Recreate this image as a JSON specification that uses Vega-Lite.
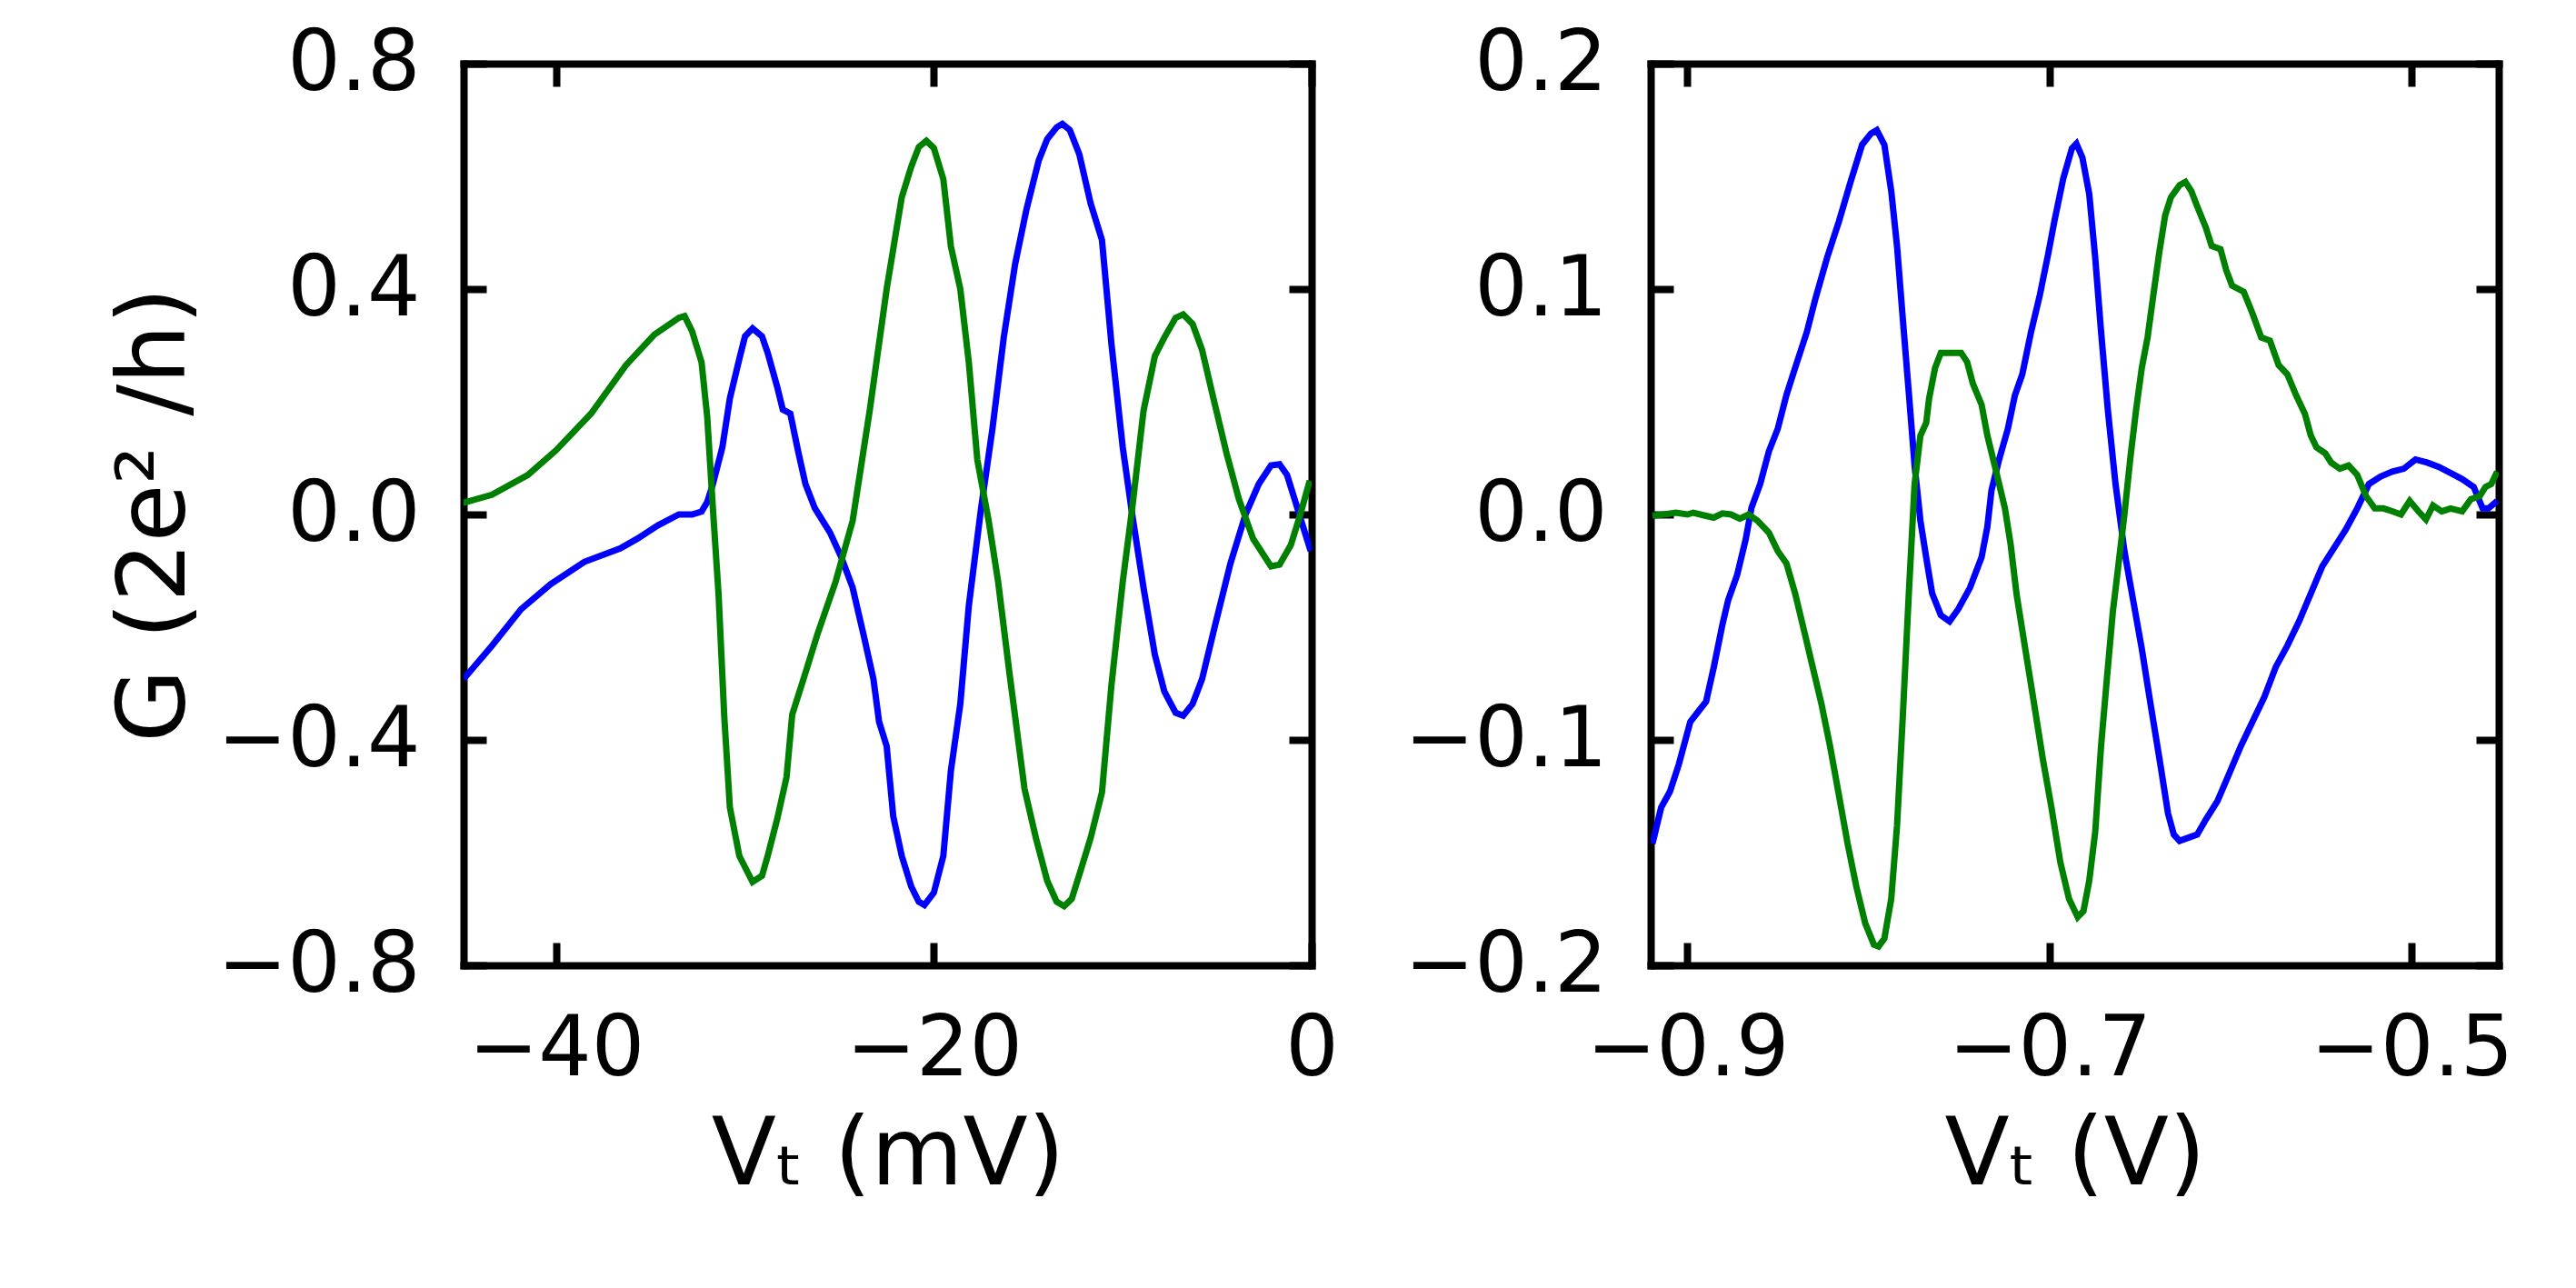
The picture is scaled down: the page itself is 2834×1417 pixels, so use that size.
{
"$schema": "https://vega.github.io/schema/vega-lite/v6.json",
"autosize": {"type": "none"},
"padding": {"left": 510, "top": 70, "right": 2324, "bottom": 1347},
"background": "white",
"config": {
 "view": {"stroke": null},
 "axis": {"grid": false, "domain": true, "domainColor": "black", "domainWidth": 8, "domainCap": "square", "ticks": true, "tickColor": "black", "tickWidth": 8, "tickSize": -25, "labelFont": "DejaVu Sans", "labelFontSize": 92, "labelColor": "black", "labelFlush": false, "labelOverlap": false, "labelLimit": 0, "titleFont": "DejaVu Sans", "titleFontSize": 104, "titleFontWeight": "normal", "titleColor": "black", "zindex": 1}
},
"datasets": {
 "left": [
  {"s":"b","x":-44.9,"y":-0.292},{"s":"b","x":-43.4,"y":-0.233},{"s":"b","x":-41.85,"y":-0.168},{"s":"b","x":-40.3,"y":-0.124},{"s":"b","x":-38.5,"y":-0.084},{"s":"b","x":-36.6,"y":-0.06},{"s":"b","x":-35.7,"y":-0.043},{"s":"b","x":-34.6,"y":-0.019},{"s":"b","x":-33.5,"y":0.0},{"s":"b","x":-32.8,"y":0.0},{"s":"b","x":-32.3,"y":0.005},{"s":"b","x":-32.0,"y":0.022},{"s":"b","x":-31.7,"y":0.054},{"s":"b","x":-31.2,"y":0.119},{"s":"b","x":-30.8,"y":0.206},{"s":"b","x":-30.3,"y":0.276},{"s":"b","x":-30.0,"y":0.316},{"s":"b","x":-29.6,"y":0.33},{"s":"b","x":-29.1,"y":0.316},{"s":"b","x":-28.8,"y":0.287},{"s":"b","x":-28.3,"y":0.227},{"s":"b","x":-28.0,"y":0.186},{"s":"b","x":-27.6,"y":0.179},{"s":"b","x":-27.2,"y":0.114},{"s":"b","x":-26.8,"y":0.054},{"s":"b","x":-26.3,"y":0.011},{"s":"b","x":-25.5,"y":-0.032},{"s":"b","x":-24.9,"y":-0.076},{"s":"b","x":-24.3,"y":-0.13},{"s":"b","x":-23.7,"y":-0.217},{"s":"b","x":-23.2,"y":-0.292},{"s":"b","x":-22.9,"y":-0.368},{"s":"b","x":-22.5,"y":-0.411},{"s":"b","x":-22.15,"y":-0.536},{"s":"b","x":-21.7,"y":-0.606},{"s":"b","x":-21.2,"y":-0.66},{"s":"b","x":-20.8,"y":-0.687},{"s":"b","x":-20.5,"y":-0.693},{"s":"b","x":-20.0,"y":-0.671},{"s":"b","x":-19.5,"y":-0.606},{"s":"b","x":-19.1,"y":-0.455},{"s":"b","x":-18.6,"y":-0.336},{"s":"b","x":-18.15,"y":-0.162},{"s":"b","x":-17.5,"y":0.011},{"s":"b","x":-16.9,"y":0.152},{"s":"b","x":-16.3,"y":0.314},{"s":"b","x":-15.7,"y":0.444},{"s":"b","x":-15.1,"y":0.541},{"s":"b","x":-14.45,"y":0.628},{"s":"b","x":-14.0,"y":0.666},{"s":"b","x":-13.5,"y":0.687},{"s":"b","x":-13.2,"y":0.693},{"s":"b","x":-12.8,"y":0.682},{"s":"b","x":-12.3,"y":0.639},{"s":"b","x":-11.7,"y":0.552},{"s":"b","x":-11.1,"y":0.487},{"s":"b","x":-10.6,"y":0.303},{"s":"b","x":-10.0,"y":0.119},{"s":"b","x":-9.5,"y":0.0},{"s":"b","x":-8.9,"y":-0.13},{"s":"b","x":-8.3,"y":-0.249},{"s":"b","x":-7.8,"y":-0.314},{"s":"b","x":-7.2,"y":-0.352},{"s":"b","x":-6.8,"y":-0.357},{"s":"b","x":-6.3,"y":-0.336},{"s":"b","x":-5.8,"y":-0.292},{"s":"b","x":-5.1,"y":-0.195},{"s":"b","x":-4.3,"y":-0.087},{"s":"b","x":-3.5,"y":0.0},{"s":"b","x":-2.8,"y":0.054},{"s":"b","x":-2.15,"y":0.087},{"s":"b","x":-1.7,"y":0.089},{"s":"b","x":-1.3,"y":0.07},{"s":"b","x":-0.9,"y":0.027},{"s":"b","x":-0.45,"y":-0.022},{"s":"b","x":-0.05,"y":-0.065},
  {"s":"g","x":-45,"y":0.02},{"s":"g","x":-43.4,"y":0.035},{"s":"g","x":-41.5,"y":0.07},{"s":"g","x":-40,"y":0.114},{"s":"g","x":-38.15,"y":0.179},{"s":"g","x":-36.3,"y":0.265},{"s":"g","x":-34.8,"y":0.319},{"s":"g","x":-33.5,"y":0.349},{"s":"g","x":-33.2,"y":0.352},{"s":"g","x":-32.8,"y":0.325},{"s":"g","x":-32.3,"y":0.27},{"s":"g","x":-32.0,"y":0.173},{"s":"g","x":-31.7,"y":0.011},{"s":"g","x":-31.4,"y":-0.141},{"s":"g","x":-31.1,"y":-0.357},{"s":"g","x":-30.8,"y":-0.52},{"s":"g","x":-30.3,"y":-0.606},{"s":"g","x":-29.6,"y":-0.652},{"s":"g","x":-29.1,"y":-0.641},{"s":"g","x":-28.8,"y":-0.606},{"s":"g","x":-28.3,"y":-0.541},{"s":"g","x":-27.8,"y":-0.466},{"s":"g","x":-27.5,"y":-0.355},{"s":"g","x":-26.8,"y":-0.281},{"s":"g","x":-26.15,"y":-0.211},{"s":"g","x":-25.2,"y":-0.119},{"s":"g","x":-24.3,"y":-0.011},{"s":"g","x":-23.4,"y":0.184},{"s":"g","x":-22.5,"y":0.4},{"s":"g","x":-21.7,"y":0.563},{"s":"g","x":-21.2,"y":0.617},{"s":"g","x":-20.8,"y":0.652},{"s":"g","x":-20.4,"y":0.663},{"s":"g","x":-20.0,"y":0.65},{"s":"g","x":-19.5,"y":0.595},{"s":"g","x":-19.1,"y":0.476},{"s":"g","x":-18.6,"y":0.4},{"s":"g","x":-18.15,"y":0.27},{"s":"g","x":-17.7,"y":0.097},{"s":"g","x":-17.1,"y":-0.011},{"s":"g","x":-16.6,"y":-0.119},{"s":"g","x":-16.0,"y":-0.281},{"s":"g","x":-15.2,"y":-0.487},{"s":"g","x":-14.6,"y":-0.574},{"s":"g","x":-14.0,"y":-0.65},{"s":"g","x":-13.5,"y":-0.687},{"s":"g","x":-13.1,"y":-0.695},{"s":"g","x":-12.7,"y":-0.682},{"s":"g","x":-12.3,"y":-0.639},{"s":"g","x":-11.7,"y":-0.574},{"s":"g","x":-11.1,"y":-0.493},{"s":"g","x":-10.6,"y":-0.303},{"s":"g","x":-10.0,"y":-0.119},{"s":"g","x":-9.5,"y":0.011},{"s":"g","x":-8.9,"y":0.184},{"s":"g","x":-8.3,"y":0.281},{"s":"g","x":-7.8,"y":0.314},{"s":"g","x":-7.2,"y":0.349},{"s":"g","x":-6.8,"y":0.355},{"s":"g","x":-6.3,"y":0.338},{"s":"g","x":-5.8,"y":0.292},{"s":"g","x":-5.2,"y":0.206},{"s":"g","x":-4.5,"y":0.108},{"s":"g","x":-3.85,"y":0.027},{"s":"g","x":-3.1,"y":-0.043},{"s":"g","x":-2.15,"y":-0.092},{"s":"g","x":-1.7,"y":-0.089},{"s":"g","x":-1.1,"y":-0.054},{"s":"g","x":-0.6,"y":0.0},{"s":"g","x":-0.1,"y":0.06}
 ],
 "right": [
  {"s":"b","x":-0.9193,"y":-0.146},{"s":"b","x":-0.9145,"y":-0.13},{"s":"b","x":-0.9097,"y":-0.123},{"s":"b","x":-0.9048,"y":-0.111},{"s":"b","x":-0.8984,"y":-0.092},{"s":"b","x":-0.8936,"y":-0.087},{"s":"b","x":-0.8897,"y":-0.083},{"s":"b","x":-0.8855,"y":-0.068},{"s":"b","x":-0.8807,"y":-0.049},{"s":"b","x":-0.8775,"y":-0.038},{"s":"b","x":-0.8726,"y":-0.027},{"s":"b","x":-0.8678,"y":-0.011},{"s":"b","x":-0.8646,"y":0.003},{"s":"b","x":-0.8598,"y":0.0135},{"s":"b","x":-0.855,"y":0.028},{"s":"b","x":-0.8501,"y":0.038},{"s":"b","x":-0.8453,"y":0.053},{"s":"b","x":-0.8405,"y":0.065},{"s":"b","x":-0.834,"y":0.081},{"s":"b","x":-0.8292,"y":0.096},{"s":"b","x":-0.8228,"y":0.114},{"s":"b","x":-0.8163,"y":0.13},{"s":"b","x":-0.8099,"y":0.1475},{"s":"b","x":-0.8035,"y":0.164},{"s":"b","x":-0.7986,"y":0.169},{"s":"b","x":-0.7954,"y":0.1705},{"s":"b","x":-0.7912,"y":0.164},{"s":"b","x":-0.7874,"y":0.1435},{"s":"b","x":-0.7842,"y":0.119},{"s":"b","x":-0.781,"y":0.0866},{"s":"b","x":-0.7777,"y":0.054},{"s":"b","x":-0.7745,"y":0.0217},{"s":"b","x":-0.7713,"y":-0.0027},{"s":"b","x":-0.7681,"y":-0.019},{"s":"b","x":-0.7648,"y":-0.035},{"s":"b","x":-0.76,"y":-0.0447},{"s":"b","x":-0.7552,"y":-0.0474},{"s":"b","x":-0.7504,"y":-0.042},{"s":"b","x":-0.7439,"y":-0.0325},{"s":"b","x":-0.7375,"y":-0.019},{"s":"b","x":-0.7343,"y":-0.0054},{"s":"b","x":-0.732,"y":0.0108},{"s":"b","x":-0.7278,"y":0.0244},{"s":"b","x":-0.723,"y":0.0379},{"s":"b","x":-0.7191,"y":0.0528},{"s":"b","x":-0.715,"y":0.0622},{"s":"b","x":-0.7101,"y":0.0812},{"s":"b","x":-0.7053,"y":0.0974},{"s":"b","x":-0.7005,"y":0.1164},{"s":"b","x":-0.6973,"y":0.13},{"s":"b","x":-0.6924,"y":0.149},{"s":"b","x":-0.6876,"y":0.1624},{"s":"b","x":-0.6851,"y":0.1645},{"s":"b","x":-0.6818,"y":0.1583},{"s":"b","x":-0.678,"y":0.142},{"s":"b","x":-0.6747,"y":0.1137},{"s":"b","x":-0.6715,"y":0.0812},{"s":"b","x":-0.6677,"y":0.046},{"s":"b","x":-0.6635,"y":0.0135},{"s":"b","x":-0.6586,"y":-0.0162},{"s":"b","x":-0.6538,"y":-0.0379},{"s":"b","x":-0.649,"y":-0.0595},{"s":"b","x":-0.6442,"y":-0.0839},{"s":"b","x":-0.6393,"y":-0.108},{"s":"b","x":-0.6345,"y":-0.1326},{"s":"b","x":-0.6313,"y":-0.142},{"s":"b","x":-0.6281,"y":-0.1448},{"s":"b","x":-0.6233,"y":-0.1434},{"s":"b","x":-0.6184,"y":-0.142},{"s":"b","x":-0.6136,"y":-0.1353},{"s":"b","x":-0.6072,"y":-0.1272},{"s":"b","x":-0.6007,"y":-0.115},{"s":"b","x":-0.5943,"y":-0.1028},{"s":"b","x":-0.5879,"y":-0.092},{"s":"b","x":-0.5814,"y":-0.0812},{"s":"b","x":-0.575,"y":-0.0677},{"s":"b","x":-0.5686,"y":-0.0582},{"s":"b","x":-0.5621,"y":-0.0474},{"s":"b","x":-0.5557,"y":-0.0352},{"s":"b","x":-0.5493,"y":-0.023},{"s":"b","x":-0.5428,"y":-0.0149},{"s":"b","x":-0.5364,"y":-0.0068},{"s":"b","x":-0.53,"y":0.0027},{"s":"b","x":-0.5235,"y":0.0135},{"s":"b","x":-0.5171,"y":0.0168},{"s":"b","x":-0.5106,"y":0.019},{"s":"b","x":-0.5042,"y":0.0203},{"s":"b","x":-0.4978,"y":0.0244},{"s":"b","x":-0.4913,"y":0.023},{"s":"b","x":-0.4849,"y":0.0211},{"s":"b","x":-0.4784,"y":0.0184},{"s":"b","x":-0.472,"y":0.0157},{"s":"b","x":-0.4656,"y":0.0122},{"s":"b","x":-0.4607,"y":0.0027},{"s":"b","x":-0.4575,"y":0.0027},{"s":"b","x":-0.4527,"y":0.006},
  {"s":"g","x":-0.9193,"y":-0.0005},{"s":"g","x":-0.9129,"y":0.0},{"s":"g","x":-0.9064,"y":0.0008},{"s":"g","x":-0.9,"y":0.0},{"s":"g","x":-0.8968,"y":0.0008},{"s":"g","x":-0.8903,"y":-0.0005},{"s":"g","x":-0.8855,"y":-0.0014},{"s":"g","x":-0.8807,"y":0.0005},{"s":"g","x":-0.8759,"y":0.0},{"s":"g","x":-0.871,"y":-0.0019},{"s":"g","x":-0.8662,"y":0.0},{"s":"g","x":-0.8614,"y":-0.0027},{"s":"g","x":-0.855,"y":-0.0081},{"s":"g","x":-0.8501,"y":-0.0162},{"s":"g","x":-0.8453,"y":-0.0217},{"s":"g","x":-0.8405,"y":-0.035},{"s":"g","x":-0.8356,"y":-0.0514},{"s":"g","x":-0.8308,"y":-0.0677},{"s":"g","x":-0.826,"y":-0.0839},{"s":"g","x":-0.8212,"y":-0.1028},{"s":"g","x":-0.8163,"y":-0.1245},{"s":"g","x":-0.8115,"y":-0.146},{"s":"g","x":-0.8067,"y":-0.165},{"s":"g","x":-0.8018,"y":-0.1813},{"s":"g","x":-0.797,"y":-0.1908},{"s":"g","x":-0.7944,"y":-0.1916},{"s":"g","x":-0.7912,"y":-0.1881},{"s":"g","x":-0.7874,"y":-0.1705},{"s":"g","x":-0.7842,"y":-0.138},{"s":"g","x":-0.781,"y":-0.0893},{"s":"g","x":-0.7777,"y":-0.0352},{"s":"g","x":-0.7745,"y":0.0135},{"s":"g","x":-0.7713,"y":0.035},{"s":"g","x":-0.7681,"y":0.0406},{"s":"g","x":-0.7665,"y":0.0514},{"s":"g","x":-0.7632,"y":0.065},{"s":"g","x":-0.76,"y":0.0717},{"s":"g","x":-0.7536,"y":0.0717},{"s":"g","x":-0.7488,"y":0.0717},{"s":"g","x":-0.7455,"y":0.0677},{"s":"g","x":-0.7423,"y":0.058},{"s":"g","x":-0.7375,"y":0.0487},{"s":"g","x":-0.7343,"y":0.035},{"s":"g","x":-0.7294,"y":0.0189},{"s":"g","x":-0.7246,"y":0.0027},{"s":"g","x":-0.7214,"y":-0.0135},{"s":"g","x":-0.7182,"y":-0.0352},{"s":"g","x":-0.7134,"y":-0.0595},{"s":"g","x":-0.7085,"y":-0.0839},{"s":"g","x":-0.7037,"y":-0.1083},{"s":"g","x":-0.6989,"y":-0.13},{"s":"g","x":-0.694,"y":-0.1543},{"s":"g","x":-0.6892,"y":-0.1705},{"s":"g","x":-0.6844,"y":-0.1786},{"s":"g","x":-0.6812,"y":-0.1759},{"s":"g","x":-0.678,"y":-0.1624},{"s":"g","x":-0.6747,"y":-0.1407},{"s":"g","x":-0.6715,"y":-0.1028},{"s":"g","x":-0.6683,"y":-0.0731},{"s":"g","x":-0.665,"y":-0.0433},{"s":"g","x":-0.6618,"y":-0.0217},{"s":"g","x":-0.6586,"y":0.0},{"s":"g","x":-0.6554,"y":0.0244},{"s":"g","x":-0.6522,"y":0.046},{"s":"g","x":-0.649,"y":0.065},{"s":"g","x":-0.6458,"y":0.0785},{"s":"g","x":-0.6426,"y":0.0974},{"s":"g","x":-0.6393,"y":0.1164},{"s":"g","x":-0.6361,"y":0.1326},{"s":"g","x":-0.6329,"y":0.1407},{"s":"g","x":-0.6281,"y":0.1461},{"s":"g","x":-0.6249,"y":0.1475},{"s":"g","x":-0.6216,"y":0.1434},{"s":"g","x":-0.6184,"y":0.1367},{"s":"g","x":-0.6136,"y":0.1272},{"s":"g","x":-0.6104,"y":0.1191},{"s":"g","x":-0.6055,"y":0.1177},{"s":"g","x":-0.6023,"y":0.1083},{"s":"g","x":-0.5991,"y":0.1015},{"s":"g","x":-0.5927,"y":0.0988},{"s":"g","x":-0.5879,"y":0.0893},{"s":"g","x":-0.583,"y":0.0785},{"s":"g","x":-0.5782,"y":0.0771},{"s":"g","x":-0.5734,"y":0.0663},{"s":"g","x":-0.5686,"y":0.0622},{"s":"g","x":-0.5637,"y":0.0528},{"s":"g","x":-0.5589,"y":0.0447},{"s":"g","x":-0.5557,"y":0.0352},{"s":"g","x":-0.5525,"y":0.0298},{"s":"g","x":-0.5476,"y":0.0271},{"s":"g","x":-0.5444,"y":0.023},{"s":"g","x":-0.5396,"y":0.0203},{"s":"g","x":-0.5348,"y":0.0217},{"s":"g","x":-0.53,"y":0.0176},{"s":"g","x":-0.5251,"y":0.0081},{"s":"g","x":-0.5203,"y":0.0027},{"s":"g","x":-0.5155,"y":0.0027},{"s":"g","x":-0.5106,"y":0.0014},{"s":"g","x":-0.5058,"y":0.0},{"s":"g","x":-0.501,"y":0.006},{"s":"g","x":-0.4962,"y":0.0014},{"s":"g","x":-0.492,"y":-0.0022},{"s":"g","x":-0.4881,"y":0.004},{"s":"g","x":-0.4833,"y":0.0014},{"s":"g","x":-0.4784,"y":0.0027},{"s":"g","x":-0.472,"y":0.0014},{"s":"g","x":-0.4672,"y":0.0068},{"s":"g","x":-0.4623,"y":0.0081},{"s":"g","x":-0.4591,"y":0.0122},{"s":"g","x":-0.4559,"y":0.0135},{"s":"g","x":-0.4527,"y":0.019}
 ]
},
"spacing": 373,
"bounds": "flush",
"hconcat": [
 {
  "width": 933, "height": 992,
  "data": {"name": "left"},
  "layer": [
   {"mark": {"type": "line", "strokeWidth": 7, "clip": true},
    "encoding": {
     "x": {"field": "x", "type": "quantitative", "scale": {"domain": [-44.9, 0], "nice": false, "zero": false}, "axis": {"orient": "bottom", "values": [-40, -20, 0], "format": "d", "labelPadding": 72, "title": "Vₜ (mV)", "titlePadding": 20}},
     "y": {"field": "y", "type": "quantitative", "scale": {"domain": [-0.8, 0.8], "nice": false, "zero": false}, "axis": {"orient": "left", "values": [-0.8, -0.4, 0, 0.4, 0.8], "format": ".1f", "labelPadding": 73, "title": "G (2e² /h)", "titlePadding": 86}},
     "color": {"field": "s", "type": "nominal", "scale": {"domain": ["b", "g"], "range": ["#0000ff", "#008000"]}, "legend": null}
    }},
   {"mark": {"type": "point", "opacity": 0, "size": 1},
    "encoding": {
     "x": {"field": "x", "type": "quantitative", "axis": {"orient": "top", "values": [-40, -20, 0], "labels": false, "title": null}},
     "y": {"field": "y", "type": "quantitative", "axis": {"orient": "right", "values": [-0.8, -0.4, 0, 0.4, 0.8], "labels": false, "title": null}}
    }}
  ],
  "resolve": {"axis": {"x": "independent", "y": "independent"}}
 },
 {
  "width": 933, "height": 992,
  "data": {"name": "right"},
  "layer": [
   {"mark": {"type": "line", "strokeWidth": 7, "clip": true},
    "encoding": {
     "x": {"field": "x", "type": "quantitative", "scale": {"domain": [-0.9203, -0.4518], "nice": false, "zero": false}, "axis": {"orient": "bottom", "values": [-0.9, -0.7, -0.5], "format": ".1f", "labelPadding": 72, "title": "Vₜ (V)", "titlePadding": 20}},
     "y": {"field": "y", "type": "quantitative", "scale": {"domain": [-0.2, 0.2], "nice": false, "zero": false}, "axis": {"orient": "left", "values": [-0.2, -0.1, 0, 0.1, 0.2], "format": ".1f", "labelPadding": 73, "title": null}},
     "color": {"field": "s", "type": "nominal", "scale": {"domain": ["b", "g"], "range": ["#0000ff", "#008000"]}, "legend": null}
    }},
   {"mark": {"type": "point", "opacity": 0, "size": 1},
    "encoding": {
     "x": {"field": "x", "type": "quantitative", "axis": {"orient": "top", "values": [-0.9, -0.7, -0.5], "labels": false, "title": null}},
     "y": {"field": "y", "type": "quantitative", "axis": {"orient": "right", "values": [-0.2, -0.1, 0, 0.1, 0.2], "labels": false, "title": null}}
    }}
  ],
  "resolve": {"axis": {"x": "independent", "y": "independent"}}
 }
]
}
